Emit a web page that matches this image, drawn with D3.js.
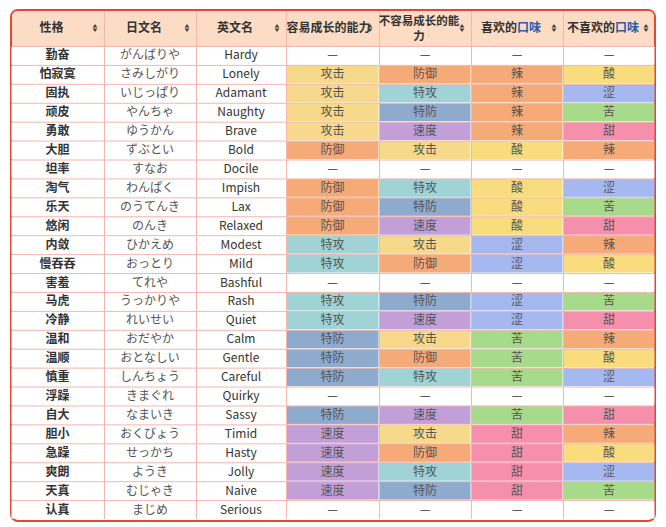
<!DOCTYPE html>
<html><head><meta charset="utf-8">
<script src="https://cdn.jsdelivr.net/npm/d3@7"></script>
<style>body{margin:0;background:#fff;font-family:"Noto Sans CJK SC","Noto Sans",sans-serif}</style>
</head><body><svg id="c"></svg>
<script>
const headers = ["性格", "日文名", "英文名", "容易成长的能力", "不容易成长的能力", "喜欢的口味", "不喜欢的口味"];
const names = ["勤奋","怕寂寞","固执","顽皮","勇敢","大胆","坦率","淘气","乐天","悠闲","内敛","慢吞吞","害羞","马虎","冷静","温和","温顺","慎重","浮躁","自大","胆小","急躁","爽朗","天真","认真"];
const jpNames = ["がんばりや","さみしがり","いじっぱり","やんちゃ","ゆうかん","ずぶとい","すなお","わんぱく","のうてんき","のんき","ひかえめ","おっとり","てれや","うっかりや","れいせい","おだやか","おとなしい","しんちょう","きまぐれ","なまいき","おくびょう","せっかち","ようき","むじゃき","まじめ"];
const enNames = ["Hardy","Lonely","Adamant","Naughty","Brave","Bold","Docile","Impish","Lax","Relaxed","Modest","Mild","Bashful","Rash","Quiet","Calm","Gentle","Careful","Quirky","Sassy","Timid","Hasty","Jolly","Naive","Serious"];
const up = ["—","攻击","攻击","攻击","攻击","防御","—","防御","防御","防御","特攻","特攻","—","特攻","特攻","特防","特防","特防","—","特防","速度","速度","速度","速度","—"];
const down = ["—","防御","特攻","特防","速度","攻击","—","特攻","特防","速度","攻击","防御","—","特防","速度","攻击","防御","特攻","—","速度","攻击","防御","特攻","特防","—"];
const likes = ["—","辣","辣","辣","辣","酸","—","酸","酸","酸","涩","涩","—","涩","涩","苦","苦","苦","—","苦","甜","甜","甜","甜","—"];
const dislikes = ["—","酸","涩","苦","甜","辣","—","涩","苦","甜","辣","酸","—","苦","甜","辣","酸","涩","—","甜","辣","酸","涩","苦","—"];

const colors = {"攻击":"#f6d98a","防御":"#f5aa78","特攻":"#9fd3d6","特防":"#8eaacd","速度":"#c39fd8",
  "辣":"#f5aa78","酸":"#f8dc7e","涩":"#a5b8f0","苦":"#a8da8c","甜":"#f68fab"};

const W = 666, H = 527;
const svg = d3.select("#c").attr("width", W).attr("height", H);
const x0t = 11, x1t = 655, y0t = 10, headH = 36, y1t = 521;
const colEdges = [11, 104, 196, 286, 379, 471, 563, 655];

const y = d3.scaleBand().domain(d3.range(names.length)).range([y0t + headH, y1t - 2]);

svg.append("rect").attr("x", x0t).attr("y", y0t).attr("width", x1t - x0t).attr("height", y1t - y0t)
  .attr("rx", 7).attr("fill", "#fff").attr("stroke", "#e0483a").attr("stroke-width", 2);

// header
svg.append("path").attr("fill", "#fcdcc4")
  .attr("d", `M${x0t+1},${y0t+headH} V${y0t+7} Q${x0t+1},${y0t+1} ${x0t+7},${y0t+1} H${x1t-7} Q${x1t-1},${y0t+1} ${x1t-1},${y0t+7} V${y0t+headH} Z`);

const cols = [names, jpNames, enNames, up, down, likes, dislikes];
const g = svg.append("g");
names.forEach((n, i) => {
  cols.forEach((col, c) => {
    const v = col[i];
    const x0 = colEdges[c], x1 = colEdges[c + 1];
    const fill = c >= 3 && colors[v] ? colors[v] : "#fff";
    g.append("rect").attr("x", x0 + 0.5).attr("y", y(i) + 0.5).attr("width", x1 - x0 - 1).attr("height", y.bandwidth() - 1)
      .attr("fill", fill);
    g.append("text").attr("x", (x0 + x1) / 2).attr("y", y(i) + y.bandwidth() / 2 + 4)
      .attr("text-anchor", "middle").attr("font-size", 12)
      .attr("font-weight", c === 0 ? "bold" : "normal")
      .attr("fill", c === 1 ? "#555" : (c >= 3 && v !== "—" ? "#555" : "#333"))
      .text(v);
  });
});

// grid lines
const grid = svg.append("g").attr("stroke", "#f2b7ae").attr("stroke-width", 1);
y.domain().forEach(i => grid.append("line").attr("x1", x0t + 1).attr("x2", x1t - 1)
  .attr("y1", y(i) + 0.5).attr("y2", y(i) + 0.5));
colEdges.slice(1, -1).forEach(x => grid.append("line").attr("x1", x + 0.5).attr("x2", x + 0.5)
  .attr("y1", y0t + 1).attr("y2", y1t - 2));

// header texts
headers.forEach((h, c) => {
  const x0 = colEdges[c], x1 = colEdges[c + 1];
  const t = svg.append("text").attr("text-anchor", "middle").attr("font-size", 12).attr("font-weight", "bold").attr("fill", "#333");
  const cx = (x0 + x1) / 2 - 6;
  if (h === "不容易成长的能力") {
    t.attr("font-size", 11.5);
    t.append("tspan").attr("x", cx).attr("y", y0t + 15).text("不容易成长的能");
    t.append("tspan").attr("x", cx).attr("y", y0t + 30).text("力");
  } else if (h.endsWith("口味")) {
    t.attr("x", cx).attr("y", y0t + headH / 2 + 4);
    t.append("tspan").text(h.slice(0, -2));
    t.append("tspan").attr("fill", "#2a5db0").text("口味");
  } else {
    t.attr("x", h.length > 5 ? cx + 2 : cx).attr("y", y0t + headH / 2 + 4).text(h);
  }
  const sx = x1 - 9, sy = y0t + headH / 2;
  svg.append("path").attr("fill", "#444").attr("d", `M${sx-2.5},${sy-0.5} L${sx},${sy-4} L${sx+2.5},${sy-0.5} Z M${sx-2.5},${sy+0.5} L${sx},${sy+4} L${sx+2.5},${sy+0.5} Z`);
});
</script></body></html>
